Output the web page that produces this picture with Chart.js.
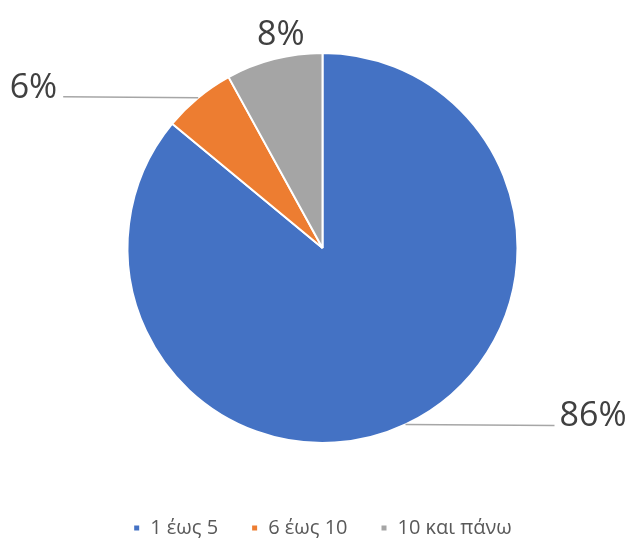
<!DOCTYPE html>
<html>
<head>
<meta charset="utf-8">
<script src="https://cdn.jsdelivr.net/npm/chart.js@4"></script>
<style>
  html, body { margin: 0; padding: 0; background: #fff; }
  #wrap { width: 633px; height: 540px; }
</style>
</head>
<body>
<div id="wrap"><canvas id="chartPie"></canvas></div>
<script>
// Dữ liệu biểu đồ
const categories = ['1 έως 5', '6 έως 10', '10 και πάνω'];
const values = [86, 6, 8];
const colors = ['#4472C4', '#ED7D31', '#A5A5A5'];

// vị trí nhãn cho từng lát: 'right' / 'left' có đường dẫn, 'out' không có
const labelStyle = [
  { kind: 'right', len: 149 },
  { kind: 'left', len: 135 },
  { kind: 'out', dist: 25, dx: 13 }
];

const pieLabels = {
  id: 'pieLabels',
  afterDraw(chart) {
    const ctx = chart.ctx;
    const meta = chart.getDatasetMeta(0);
    const total = values.reduce((a, b) => a + b, 0);
    ctx.save();
    ctx.font = '34px "Open Sans"';
    ctx.fillStyle = '#404040';
    ctx.strokeStyle = '#A6A6A6';
    ctx.lineWidth = 1.5;
    meta.data.forEach((arc, i) => {
      const mid = (arc.startAngle + arc.endAngle) / 2;
      const r = arc.outerRadius;
      const px = arc.x + Math.cos(mid) * r;
      const py = arc.y + Math.sin(mid) * r;
      const text = Math.round(values[i] / total * 100) + '%';
      const st = labelStyle[i];
      ctx.textBaseline = 'alphabetic';
      if (st.kind === 'right') {
        ctx.beginPath();
        ctx.moveTo(px, py);
        ctx.lineTo(px + st.len, py + 1);
        ctx.stroke();
        ctx.textAlign = 'left';
        ctx.fillText(text, px + st.len + 5, py + 2);
      } else if (st.kind === 'left') {
        ctx.beginPath();
        ctx.moveTo(px, py);
        ctx.lineTo(px - st.len, py - 1);
        ctx.stroke();
        ctx.textAlign = 'right';
        ctx.fillText(text, px - st.len - 6, py);
      } else {
        const lx = arc.x + Math.cos(mid) * (r + st.dist) + st.dx;
        const ly = arc.y + Math.sin(mid) * (r + st.dist);
        ctx.textAlign = 'center';
        ctx.textBaseline = 'middle';
        ctx.fillText(text, lx, ly);
      }
    });
    ctx.restore();
  }
};

// bỏ khoảng 10px thừa dưới chú giải
const legendFit = {
  id: 'legendFit',
  beforeInit(chart) {
    const fit = chart.legend.fit;
    chart.legend.fit = function () {
      fit.bind(chart.legend)();
      this.height -= 10;
    };
  }
};

const ctxPie = document.getElementById('chartPie')?.getContext('2d');
if (ctxPie) {
  new Chart(ctxPie, {
    type: 'pie',
    data: {
      labels: categories,
      datasets: [
        {
          data: values,
          backgroundColor: colors,
          borderColor: '#ffffff',
          borderWidth: 2
        }
      ]
    },
    options: {
      responsive: true,
      maintainAspectRatio: false,
      animation: false,
      layout: {
        padding: { top: 52, bottom: 2, left: 12, right: 0 }
      },
      plugins: {
        legend: {
          position: 'bottom',
          title: {
            display: true,
            text: '',
            font: { size: 10 },
            padding: { top: 29, bottom: 0 }
          },
          labels: {
            boxWidth: 7,
            boxHeight: 7,
            padding: 33,
            color: '#595959',
            font: { family: '"Open Sans"', size: 20 }
          }
        },
        tooltip: { enabled: false }
      }
    },
    plugins: [pieLabels, legendFit]
  });
}
</script>
</body>
</html>
